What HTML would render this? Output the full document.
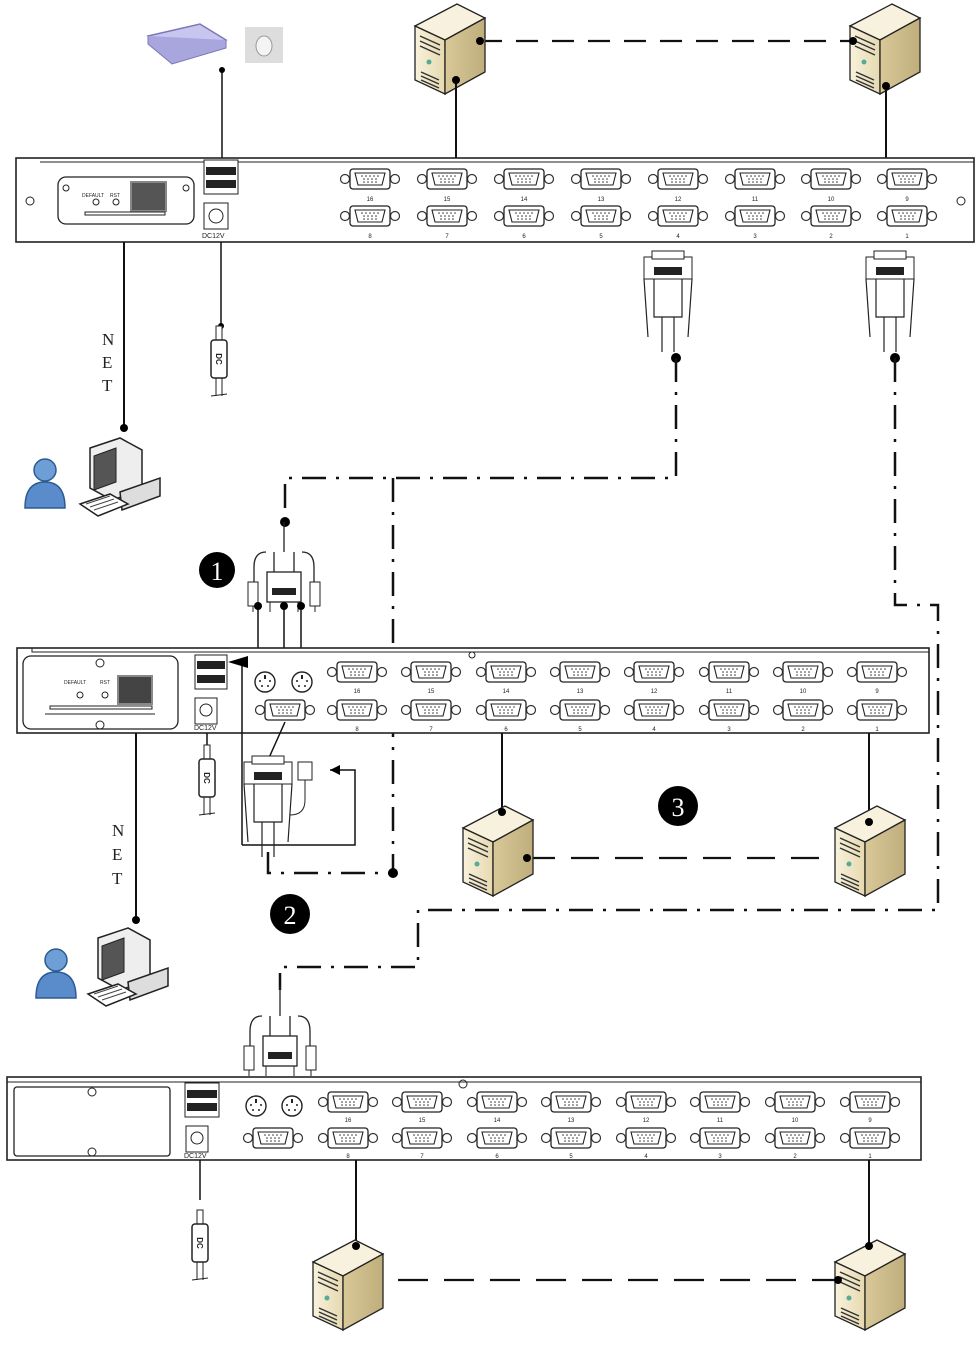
<!DOCTYPE html>
<html><head><meta charset="utf-8"><style>
html,body{margin:0;padding:0;background:#fff}
svg{display:block}
text{font-family:"Liberation Sans",sans-serif;fill:#222}
.serif{font-family:"Liberation Serif",serif;font-size:17px}
</style></head><body>
<svg width="979" height="1366" viewBox="0 0 979 1366" xmlns="http://www.w3.org/2000/svg">
<defs>
<g id="vga">
<circle cx="-25" cy="0" r="4.5" fill="none" stroke="#333" stroke-width="1.2"/>
<circle cx="25" cy="0" r="4.5" fill="none" stroke="#333" stroke-width="1.2"/>
<rect x="-20" y="-10" width="40" height="20" rx="3" fill="#fff" stroke="#222" stroke-width="1.3"/>
<path d="M-15,-6 L15,-6 L12,6 L-12,6 Z" fill="none" stroke="#222" stroke-width="1.1"/>
<g fill="#333"><circle cx="-8" cy="-3" r="0.8"/><circle cx="-4" cy="-3" r="0.8"/><circle cx="0" cy="-3" r="0.8"/><circle cx="4" cy="-3" r="0.8"/><circle cx="8" cy="-3" r="0.8"/><circle cx="-6" cy="0" r="0.8"/><circle cx="-2" cy="0" r="0.8"/><circle cx="2" cy="0" r="0.8"/><circle cx="6" cy="0" r="0.8"/><circle cx="-6" cy="3" r="0.8"/><circle cx="-2" cy="3" r="0.8"/><circle cx="2" cy="3" r="0.8"/><circle cx="6" cy="3" r="0.8"/></g>
</g>
<g id="ps2"><circle r="10" fill="#fff" stroke="#222" stroke-width="1.4"/><rect x="-1" y="-7" width="2" height="4" fill="#222"/><circle cx="-5" cy="-1" r="1" fill="#222"/><circle cx="5" cy="-1" r="1" fill="#222"/><circle cx="-3" cy="4" r="1" fill="#222"/><circle cx="3" cy="4" r="1" fill="#222"/></g>
<linearGradient id="fr" x1="0" x2="1"><stop offset="0" stop-color="#f8f2dc"/><stop offset="1" stop-color="#e6d9b0"/></linearGradient>
<linearGradient id="sd" x1="0" x2="1"><stop offset="0" stop-color="#d9c898"/><stop offset="1" stop-color="#bfae7c"/></linearGradient>
<g id="srv">
<path d="M0,22 L42,0 L70,14 L30,36 Z" fill="#f7f1de" stroke="#222" stroke-width="1.3"/>
<path d="M0,22 L30,36 L30,90 L0,76 Z" fill="url(#fr)" stroke="#222" stroke-width="1.3"/>
<path d="M30,36 L70,14 L70,68 L30,90 Z" fill="url(#sd)" stroke="#222" stroke-width="1.3"/>
<path d="M5,32 L25,41 M5,37 L25,46 M5,42 L25,51 M6,68 L24,76 M6,72 L24,80 M6,76 L24,84" stroke="#333" stroke-width="1.5"/>
<circle cx="14" cy="58" r="2.5" fill="#5a9"/>
</g>
<g id="pc">
<path d="M10,10 L40,0 L62,12 L62,52 L32,62 L10,50 Z" fill="#eee" stroke="#222" stroke-width="1.5"/>
<path d="M14,18 L36,10 L36,44 L14,52 Z" fill="#555" stroke="#222"/>
<path d="M40,54 L80,40 L80,58 L42,72 Z" fill="#ddd" stroke="#222" stroke-width="1.5"/>
<path d="M0,66 L30,56 L48,66 L18,78 Z" fill="#fff" stroke="#222" stroke-width="1.5"/>
<path d="M6,66 L30,58 M10,69 L34,61 M14,72 L38,64" stroke="#444"/>
</g>
<g id="user"><circle cx="20" cy="12" r="11" fill="#6d9fd6" stroke="#2c5b92" stroke-width="1.5"/><path d="M0,50 Q0,24 20,24 Q40,24 40,50 Z" fill="#5a8ccc" stroke="#2c5b92" stroke-width="1.5"/></g>
<g id="dc"><rect x="-3" y="0" width="6" height="14" fill="#fff" stroke="#222"/><rect x="-8" y="14" width="16" height="38" rx="3" fill="#fff" stroke="#222" stroke-width="1.5"/><text x="0" y="36" font-size="8" text-anchor="middle" transform="rotate(90 0 33)" font-weight="bold">DC</text><path d="M-3,52 L-3,70 M3,52 L3,70 M-8,70 L8,68" stroke="#222"/></g>
<g id="vgac">
<rect x="-24" y="0" width="48" height="22" fill="#fff" stroke="#222"/>
<rect x="-16" y="-6" width="32" height="8" fill="#fff" stroke="#222"/>
<rect x="-14" y="10" width="28" height="8" fill="#222"/>
<path d="M-24,22 L-20,80 M24,22 L20,80 M-14,22 L-14,60 L14,60 L14,22 M-6,60 L-6,95 M6,60 L6,95" stroke="#222" fill="none" stroke-width="1.2"/>
</g>
<g id="kvmc">
<path d="M0,0 L0,30 M-18,30 Q-30,30 -30,45 L-30,62 M18,30 Q30,30 30,45 L30,62 M-10,30 L-10,50 M10,30 L10,50" stroke="#222" fill="none" stroke-width="1.3"/>
<rect x="-17" y="50" width="34" height="30" fill="#fff" stroke="#222" stroke-width="1.3"/>
<rect x="-12" y="66" width="24" height="7" fill="#222"/>
<rect x="-36" y="60" width="10" height="24" fill="#fff" stroke="#222"/>
<rect x="26" y="60" width="10" height="24" fill="#fff" stroke="#222"/>
<path d="M-14,80 L-14,90 M14,80 L14,90 M-31,84 L-31,90 M31,84 L31,90" stroke="#222"/>
</g>
</defs>

<!-- top dashed lines between servers -->
<path d="M480,41 L853,41" stroke="#111" stroke-width="2.2" stroke-dasharray="22,14" fill="none"/>
<use href="#srv" x="415" y="4"/>
<use href="#srv" x="850" y="4"/>
<circle cx="480" cy="41" r="4" fill="#000"/><circle cx="853" cy="41" r="4" fill="#000"/>
<path d="M456,80 L456,158 M886,88 L886,158" stroke="#111" stroke-width="2"/>
<circle cx="456" cy="80" r="4" fill="#000"/><circle cx="886" cy="86" r="4" fill="#000"/>

<!-- keyboard & mouse -->
<path d="M148,36 L200,24 L226,40 L172,56 Z" fill="#c8c6ee" stroke="#7a78b8" stroke-width="1.5"/>
<path d="M148,36 L148,44 L172,64 L226,48 L226,40" fill="#a8a6dd" stroke="#7a78b8"/>
<rect x="245" y="27" width="38" height="36" fill="#ddd"/>
<ellipse cx="264" cy="46" rx="8" ry="10" fill="#f4f4f4" stroke="#999"/>
<path d="M222,70 L222,158" stroke="#111" stroke-width="1.5"/><circle cx="222" cy="70" r="3" fill="#000"/>

<!-- TOP PANEL -->
<rect x="16" y="158" width="958" height="84" fill="#fff" stroke="#222" stroke-width="1.6"/>
<path d="M40,162 L974,162" stroke="#222"/>
<circle cx="30" cy="201" r="4" fill="none" stroke="#222"/>
<circle cx="961" cy="201" r="4" fill="none" stroke="#222"/>
<rect x="58" y="177" width="136" height="47" rx="8" fill="#fff" stroke="#222" stroke-width="1.3"/>
<circle cx="66" cy="188" r="3" fill="none" stroke="#222"/><circle cx="186" cy="188" r="3" fill="none" stroke="#222"/>
<text x="82" y="197" font-size="5">DEFAULT</text><text x="110" y="197" font-size="5">RST</text>
<circle cx="96" cy="202" r="3" fill="none" stroke="#222"/><circle cx="116" cy="202" r="3" fill="none" stroke="#222"/>
<rect x="131" y="182" width="35" height="29" fill="#555" stroke="#888" stroke-width="2"/>
<rect x="85" y="212" width="80" height="3" fill="#fff" stroke="#222"/>
<rect x="204" y="160" width="34" height="34" fill="#fff" stroke="#222"/>
<rect x="206" y="167" width="30" height="8" fill="#222"/><rect x="206" y="180" width="30" height="8" fill="#222"/>
<rect x="204" y="203" width="24" height="26" fill="#fff" stroke="#222"/><circle cx="216" cy="216" r="7" fill="none" stroke="#222"/>
<text x="202" y="238" font-size="7">DC12V</text>
<g id="portsTop">
<use href="#vga" x="370" y="179"/><use href="#vga" x="447" y="179"/><use href="#vga" x="524" y="179"/><use href="#vga" x="601" y="179"/><use href="#vga" x="678" y="179"/><use href="#vga" x="755" y="179"/><use href="#vga" x="831" y="179"/><use href="#vga" x="907" y="179"/>
<use href="#vga" x="370" y="216"/><use href="#vga" x="447" y="216"/><use href="#vga" x="524" y="216"/><use href="#vga" x="601" y="216"/><use href="#vga" x="678" y="216"/><use href="#vga" x="755" y="216"/><use href="#vga" x="831" y="216"/><use href="#vga" x="907" y="216"/>
</g>
<g font-size="6" text-anchor="middle">
<text x="370" y="201">16</text><text x="447" y="201">15</text><text x="524" y="201">14</text><text x="601" y="201">13</text><text x="678" y="201">12</text><text x="755" y="201">11</text><text x="831" y="201">10</text><text x="907" y="201">9</text>
<text x="370" y="238">8</text><text x="447" y="238">7</text><text x="524" y="238">6</text><text x="601" y="238">5</text><text x="678" y="238">4</text><text x="755" y="238">3</text><text x="831" y="238">2</text><text x="907" y="238">1</text>
</g>

<!-- NET lines top -->
<path d="M124,242 L124,428" stroke="#111" stroke-width="2"/><circle cx="124" cy="428" r="4" fill="#000"/>
<text class="serif" x="102" y="345">N</text><text class="serif" x="102" y="368">E</text><text class="serif" x="102" y="391">T</text>
<path d="M221,242 L221,326" stroke="#111" stroke-width="1.5"/><circle cx="221" cy="326" r="3" fill="#000"/>
<use href="#dc" x="219" y="326"/>
<use href="#user" x="25" y="458"/>
<use href="#pc" x="80" y="438"/>

<!-- VGA connectors top -->
<use href="#vgac" x="668" y="257"/>
<use href="#vgac" x="890" y="257"/>
<circle cx="676" cy="358" r="5" fill="#000"/><circle cx="895" cy="358" r="5" fill="#000"/>

<!-- dash-dot lines -->
<g stroke="#111" stroke-width="2.5" fill="none" stroke-dasharray="24,10,3,10">
<path d="M676,358 L676,478 L285,478 L285,522"/>
<path d="M393,478 L393,873 L268,873 L268,848"/>
<path d="M895,358 L895,605 L938,605 L938,910 L418,910 L418,967 L280,967 L280,990"/>
</g>
<circle cx="285" cy="522" r="5" fill="#000"/><circle cx="393" cy="873" r="5" fill="#000"/>

<!-- KVM cable 1 -->
<use href="#kvmc" x="284" y="522"/>
<path d="M258,606 L258,648 M284,606 L284,648 M301,606 L301,648" stroke="#111" stroke-width="1.5"/>
<circle cx="258" cy="606" r="4" fill="#000"/><circle cx="284" cy="606" r="4" fill="#000"/><circle cx="301" cy="606" r="4" fill="#000"/>
<circle cx="217" cy="570" r="18" fill="#000"/><text x="217" y="580" font-size="26" text-anchor="middle" style="fill:#fff;font-family:'Liberation Serif',serif">1</text>

<!-- MIDDLE PANEL -->
<rect x="17" y="648" width="912" height="85" fill="#fff" stroke="#222" stroke-width="1.6"/>
<path d="M32,648 L32,652 L929,652" stroke="#222" fill="none"/>
<rect x="23" y="656" width="155" height="73" rx="8" fill="#fff" stroke="#222" stroke-width="1.3"/>
<circle cx="100" cy="663" r="4" fill="none" stroke="#222"/><circle cx="100" cy="725" r="4" fill="none" stroke="#222"/>
<text x="64" y="684" font-size="5">DEFAULT</text><text x="100" y="684" font-size="5">RST</text>
<circle cx="80" cy="695" r="3" fill="none" stroke="#222"/><circle cx="105" cy="695" r="3" fill="none" stroke="#222"/>
<rect x="118" y="676" width="34" height="28" fill="#444" stroke="#888" stroke-width="2"/>
<rect x="50" y="706" width="102" height="3" fill="#fff" stroke="#222"/><path d="M45,714 L155,714" stroke="#222"/>
<rect x="195" y="655" width="32" height="34" fill="#fff" stroke="#222"/>
<rect x="197" y="661" width="28" height="8" fill="#222"/><rect x="197" y="675" width="28" height="8" fill="#222"/>
<rect x="195" y="698" width="22" height="26" fill="#fff" stroke="#222"/><circle cx="206" cy="710" r="6" fill="none" stroke="#222"/>
<text x="194" y="730" font-size="7">DC12V</text>
<use href="#ps2" x="265" y="682"/><use href="#ps2" x="302" y="682"/>
<use href="#vga" x="285" y="710"/>
<use href="#vga" x="357" y="672"/><use href="#vga" x="431" y="672"/><use href="#vga" x="506" y="672"/><use href="#vga" x="580" y="672"/><use href="#vga" x="654" y="672"/><use href="#vga" x="729" y="672"/><use href="#vga" x="803" y="672"/><use href="#vga" x="877" y="672"/>
<use href="#vga" x="357" y="710"/><use href="#vga" x="431" y="710"/><use href="#vga" x="506" y="710"/><use href="#vga" x="580" y="710"/><use href="#vga" x="654" y="710"/><use href="#vga" x="729" y="710"/><use href="#vga" x="803" y="710"/><use href="#vga" x="877" y="710"/>
<g font-size="6" text-anchor="middle">
<text x="357" y="693">16</text><text x="431" y="693">15</text><text x="506" y="693">14</text><text x="580" y="693">13</text><text x="654" y="693">12</text><text x="729" y="693">11</text><text x="803" y="693">10</text><text x="877" y="693">9</text>
<text x="357" y="731">8</text><text x="431" y="731">7</text><text x="506" y="731">6</text><text x="580" y="731">5</text><text x="654" y="731">4</text><text x="729" y="731">3</text><text x="803" y="731">2</text><text x="877" y="731">1</text>
</g>
<circle cx="472" cy="655" r="3" fill="none" stroke="#222"/>

<!-- middle cables -->
<path d="M242,845 L242,662 M242,845 L355,845 L355,770 L330,770" stroke="#111" stroke-width="1.5" fill="none"/>
<path d="M228,662 L248,656 L248,668 Z" fill="#000"/>
<path d="M330,770 L340,765 L340,775 Z" fill="#000"/>
<path d="M285,722 L268,760" stroke="#111" stroke-width="1.5"/><circle cx="268" cy="760" r="4" fill="#000"/>
<use href="#vgac" x="268" y="762" transform="scale(1)"/>
<rect x="298" y="762" width="14" height="18" fill="#fff" stroke="#222"/>
<path d="M305,780 L305,800 Q305,815 290,815" stroke="#222" fill="none"/>
<path d="M136,733 L136,920" stroke="#111" stroke-width="2"/><circle cx="136" cy="920" r="4" fill="#000"/>
<text class="serif" x="112" y="836">N</text><text class="serif" x="112" y="860">E</text><text class="serif" x="112" y="884">T</text>
<path d="M207,733 L207,745" stroke="#111" stroke-width="1.5"/>
<use href="#dc" x="207" y="745"/>
<use href="#user" x="36" y="948"/>
<use href="#pc" x="88" y="928"/>

<!-- middle servers -->
<path d="M502,733 L502,812 M869,733 L869,822" stroke="#111" stroke-width="2"/>
<path d="M527,858 L836,858" stroke="#111" stroke-width="2.2" stroke-dasharray="28,16" fill="none"/>
<use href="#srv" x="463" y="806"/>
<use href="#srv" x="835" y="806"/>
<circle cx="502" cy="812" r="4" fill="#000"/><circle cx="869" cy="822" r="4" fill="#000"/><circle cx="527" cy="858" r="4" fill="#000"/>
<circle cx="678" cy="806" r="20" fill="#000"/><text x="678" y="816" font-size="26" text-anchor="middle" style="fill:#fff;font-family:'Liberation Serif',serif">3</text>
<circle cx="290" cy="914" r="20" fill="#000"/><text x="290" y="924" font-size="26" text-anchor="middle" style="fill:#fff;font-family:'Liberation Serif',serif">2</text>

<!-- KVM cable 2 -->
<use href="#kvmc" x="280" y="986"/>

<!-- BOTTOM PANEL -->
<rect x="7" y="1077" width="914" height="83" fill="#fff" stroke="#222" stroke-width="1.6"/>
<path d="M7,1082 L921,1082" stroke="#222"/>
<rect x="14" y="1087" width="156" height="69" rx="3" fill="#fff" stroke="#222" stroke-width="1.3"/>
<circle cx="92" cy="1092" r="4" fill="none" stroke="#222"/><circle cx="92" cy="1152" r="4" fill="none" stroke="#222"/>
<rect x="185" y="1083" width="34" height="34" fill="#fff" stroke="#222"/>
<rect x="187" y="1090" width="30" height="8" fill="#222"/><rect x="187" y="1103" width="30" height="8" fill="#222"/>
<rect x="186" y="1126" width="22" height="26" fill="#fff" stroke="#222"/><circle cx="197" cy="1138" r="6" fill="none" stroke="#222"/>
<text x="184" y="1158" font-size="7">DC12V</text>
<use href="#ps2" x="256" y="1106"/><use href="#ps2" x="292" y="1106"/>
<use href="#vga" x="273" y="1138"/>
<use href="#vga" x="348" y="1102"/><use href="#vga" x="422" y="1102"/><use href="#vga" x="497" y="1102"/><use href="#vga" x="571" y="1102"/><use href="#vga" x="646" y="1102"/><use href="#vga" x="720" y="1102"/><use href="#vga" x="795" y="1102"/><use href="#vga" x="870" y="1102"/>
<use href="#vga" x="348" y="1138"/><use href="#vga" x="422" y="1138"/><use href="#vga" x="497" y="1138"/><use href="#vga" x="571" y="1138"/><use href="#vga" x="646" y="1138"/><use href="#vga" x="720" y="1138"/><use href="#vga" x="795" y="1138"/><use href="#vga" x="870" y="1138"/>
<g font-size="6" text-anchor="middle">
<text x="348" y="1122">16</text><text x="422" y="1122">15</text><text x="497" y="1122">14</text><text x="571" y="1122">13</text><text x="646" y="1122">12</text><text x="720" y="1122">11</text><text x="795" y="1122">10</text><text x="870" y="1122">9</text>
<text x="348" y="1158">8</text><text x="422" y="1158">7</text><text x="497" y="1158">6</text><text x="571" y="1158">5</text><text x="646" y="1158">4</text><text x="720" y="1158">3</text><text x="795" y="1158">2</text><text x="870" y="1158">1</text>
</g>
<circle cx="463" cy="1084" r="4" fill="none" stroke="#222"/>
<path d="M200,1160 L200,1200" stroke="#111" stroke-width="1.5"/>
<use href="#dc" x="200" y="1210"/>

<!-- bottom servers -->
<path d="M356,1160 L356,1246 M869,1160 L869,1246" stroke="#111" stroke-width="2"/>
<path d="M398,1280 L838,1280" stroke="#111" stroke-width="2.2" stroke-dasharray="30,16" fill="none"/>
<use href="#srv" x="313" y="1240"/>
<use href="#srv" x="835" y="1240"/>
<circle cx="356" cy="1246" r="4" fill="#000"/><circle cx="869" cy="1246" r="4" fill="#000"/><circle cx="838" cy="1280" r="4" fill="#000"/>
</svg>
</body></html>
